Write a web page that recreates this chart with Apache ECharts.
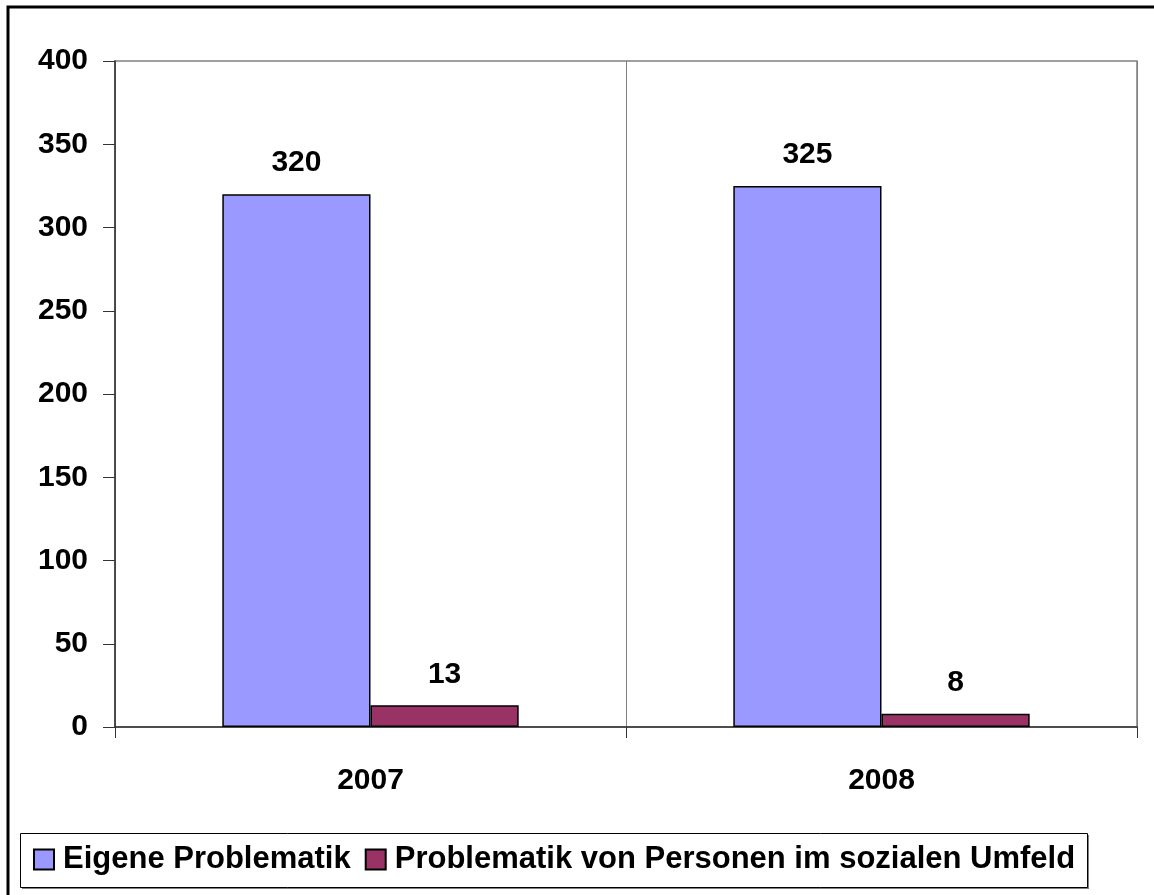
<!DOCTYPE html>
<html>
<head>
<meta charset="utf-8">
<style>
  html, body { margin: 0; padding: 0; background: #fff; }
  #chart { width: 1154px; height: 895px; }
</style>
<script src="https://cdn.jsdelivr.net/npm/echarts@6/dist/echarts.min.js"></script>
</head>
<body>
<div id="chart"></div>
<script>
const categories = ['2007', '2008'];
const seriesNames = ['Eigene Problematik', 'Problematik von Personen im sozialen Umfeld'];
const eigene = [320, 325];
const umfeld = [13, 8];
const yTicks = { min: 0, max: 400, interval: 50 };

const FONT = 'Liberation Sans, Arial, sans-serif';
const FS = 30;

const chart = echarts.init(document.getElementById('chart'), null, { renderer: 'canvas' });

const labelStyle = {
  show: true, position: 'top', distance: 16,
  color: '#000', fontFamily: FONT, fontWeight: 'bold', fontSize: FS
};

chart.setOption({
  animation: false,
  backgroundColor: '#fff',
  grid: {
    left: 115, top: 61, right: 17, bottom: 168,
    show: true, borderColor: '#808080', borderWidth: 1.5, backgroundColor: 'transparent'
  },
  graphic: [
    { type: 'rect', z: -1, shape: { x: 8, y: 7, width: 1170, height: 920 },
      style: { fill: 'none', stroke: '#000', lineWidth: 3 } },
    { type: 'rect', z: -1, shape: { x: 22, y: 835, width: 1067, height: 54 },
      style: { fill: '#808080', stroke: null } },
    { type: 'rect', z: -1, shape: { x: 20.5, y: 833.5, width: 1067, height: 54 },
      style: { fill: '#fff', stroke: '#000', lineWidth: 1 } }
  ],
  legend: {
    left: 23, top: 834, itemGap: 14, padding: [10, 10],
    itemWidth: 20, itemHeight: 20, icon: 'rect',
    data: seriesNames,
    textStyle: { color: '#000', fontFamily: FONT, fontWeight: 'bold', fontSize: 31, padding: [0, 0, 0, 4] }
  },
  xAxis: {
    type: 'category',
    data: categories,
    axisLine: { lineStyle: { color: '#333', width: 1.5 } },
    axisTick: { show: true, length: 11, lineStyle: { color: '#333', width: 1 } },
    splitLine: { show: true, lineStyle: { color: '#808080', width: 1 } },
    axisLabel: { margin: 39, color: '#000', fontFamily: FONT, fontWeight: 'bold', fontSize: FS }
  },
  yAxis: {
    type: 'value',
    min: yTicks.min, max: yTicks.max, interval: yTicks.interval,
    axisLine: { show: true, lineStyle: { color: '#333', width: 1.5 } },
    axisTick: { show: true, length: 12, lineStyle: { color: '#333', width: 1 } },
    splitLine: { show: false },
    axisLabel: { margin: 27, color: '#000', fontFamily: FONT, fontWeight: 'bold', fontSize: FS }
  },
  series: [
    {
      name: seriesNames[0], type: 'bar', data: eigene,
      barGap: '0%', barCategoryGap: '42%',
      itemStyle: { color: '#9999FF', borderColor: '#000', borderWidth: 1.5 },
      label: labelStyle
    },
    {
      name: seriesNames[1], type: 'bar', data: umfeld,
      itemStyle: { color: '#993366', borderColor: '#000', borderWidth: 1.5 },
      label: labelStyle
    }
  ]
});
</script>
</body>
</html>
